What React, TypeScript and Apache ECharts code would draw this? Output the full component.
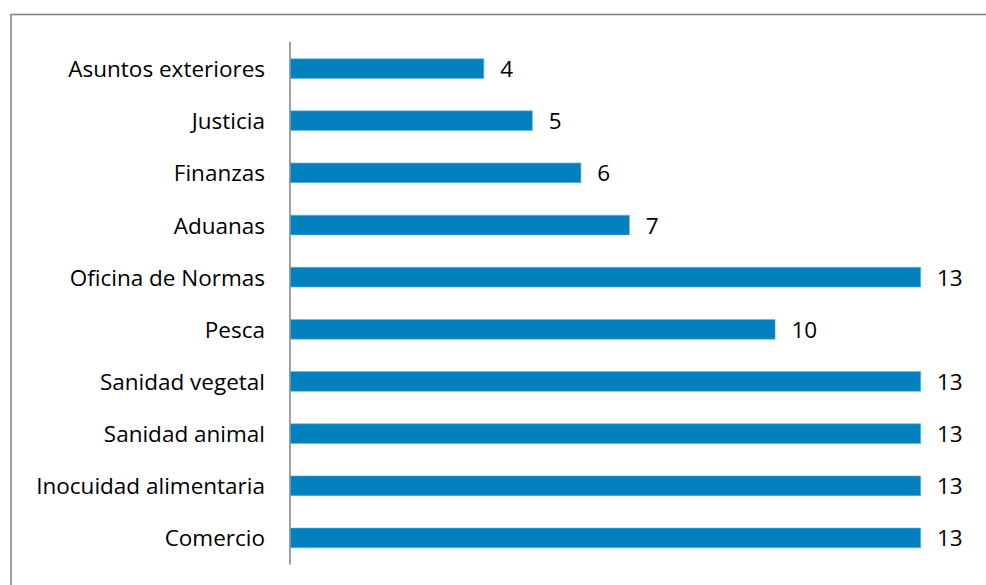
import React, { useEffect, useRef } from "react";
import * as echarts from "echarts";

const categories = [
  "Comercio",
  "Inocuidad alimentaria",
  "Sanidad animal",
  "Sanidad vegetal",
  "Pesca",
  "Oficina de Normas",
  "Aduanas",
  "Finanzas",
  "Justicia",
  "Asuntos exteriores",
];
const values = [13, 13, 13, 13, 10, 13, 7, 6, 5, 4];

const FONT = "'Open Sans', sans-serif";

export default function App() {
  const ref = useRef<HTMLDivElement>(null);
  useEffect(() => {
    if (!ref.current) return;
    const chart = echarts.init(ref.current, undefined, { renderer: "svg" });
    chart.setOption({
      animation: false,
      backgroundColor: "#ffffff",
      textStyle: { fontFamily: FONT },
      grid: { left: 290, right: 65, top: 42.5, bottom: 21, containLabel: false },
      xAxis: {
        type: "value",
        min: 0,
        max: 13,
        show: false,
      },
      yAxis: {
        type: "category",
        data: categories,
        axisLine: { show: true, lineStyle: { color: "#808080", width: 1.5 } },
        axisTick: { show: false },
        axisLabel: { color: "#000000", fontSize: 22.5, margin: 25, fontFamily: FONT },
      },
      series: [
        {
          type: "bar",
          data: values,
          barWidth: "39%",
          itemStyle: { color: "#0380BE", borderColor: "#6fb4dc", borderWidth: 0.6 },
          label: {
            show: true,
            position: "right",
            distance: 16,
            color: "#000000",
            fontSize: 22.5,
            fontFamily: FONT,
          },
        },
      ],
      graphic: [
        {
          type: "polyline",
          shape: { points: [[11, 600], [11, 14.5], [1000, 14.5]] },
          style: { stroke: "#808080", lineWidth: 1.5, fill: "none" },
          silent: true,
        },
      ],
    });
    return () => chart.dispose();
  }, []);
  return (
    <div
      ref={ref}
      style={{ position: "fixed", left: 0, top: 0, width: 986, height: 585 }}
    />
  );
}
